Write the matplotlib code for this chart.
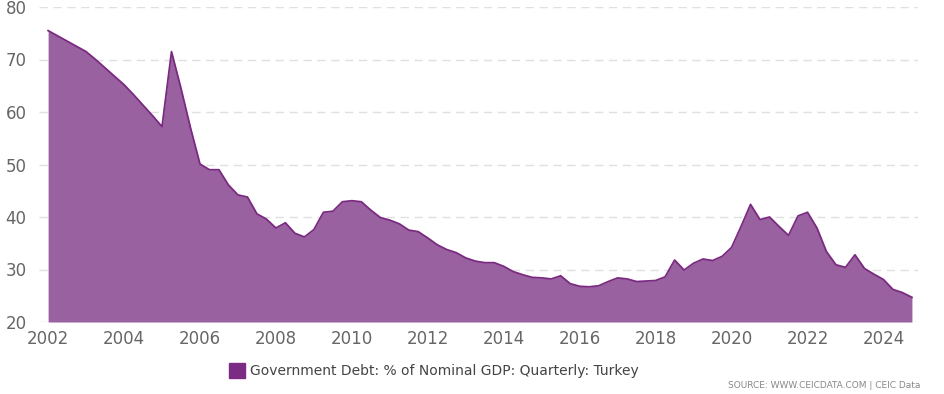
import numpy as np
import matplotlib.pyplot as plt
from matplotlib.patches import Rectangle

# quarterly readings, 2002 Q1 .. 2024 Q4
start_year = 2002
debt_pct = [
    75.5, 74.5, 73.5, 72.5, 71.5, 70.0, 68.4, 66.8,
    65.2, 63.3, 61.3, 59.3, 57.2, 71.5, 64.5, 57.0,
    50.1, 49.0, 49.0, 46.1, 44.2, 43.8, 40.6, 39.6,
    37.9, 38.9, 36.9, 36.2, 37.6, 40.9, 41.1, 42.9,
    43.1, 42.9, 41.3, 39.9, 39.4, 38.7, 37.5, 37.2,
    36.0, 34.7, 33.8, 33.2, 32.2, 31.6, 31.3, 31.3,
    30.6, 29.6, 29.0, 28.5, 28.4, 28.2, 28.8, 27.3,
    26.8, 26.7, 26.9, 27.7, 28.4, 28.2, 27.7, 27.8,
    27.9, 28.6, 31.8, 29.9, 31.2, 32.0, 31.7, 32.5,
    34.2, 38.2, 42.4, 39.5, 40.0, 38.2, 36.5, 40.2,
    40.9, 37.9, 33.4, 30.9, 30.4, 32.8, 30.2, 29.1,
    28.1, 26.2, 25.6, 24.7,
]
y_ticks = [20, 30, 40, 50, 60, 70, 80]
x_ticks = list(range(2002, 2025, 2))
series_name = 'Government Debt: % of Nominal GDP: Quarterly: Turkey'
source_text = 'SOURCE: WWW.CEICDATA.COM | CEIC Data'

t = start_year + np.arange(len(debt_pct)) / 4.0
vals = np.array(debt_pct)

plt.rcParams['font.family'] = ['DejaVu Sans']

fig = plt.figure(figsize=(9.45, 3.94), dpi=100)
ax = fig.add_axes([39 / 945, 72 / 394, 879 / 945, 315 / 394])

ax.fill_between(t, 20, vals, color='#9961a0', linewidth=0)
ax.plot(t, vals, color='#7a2a80', linewidth=1.3)

ax.set_ylim(20, 80)
ax.set_xlim(2001.76, 2024.91)
ax.set_yticks(y_ticks)
ax.set_xticks(x_ticks)
ax.set_xticklabels([str(x) for x in x_ticks])
ax.grid(axis='y', color='#e0e0e0', linestyle=(0, (6, 4)), linewidth=1)
ax.set_axisbelow(True)
for s in ax.spines.values():
    s.set_visible(False)
ax.tick_params(axis='both', length=0, colors='#666666', labelsize=12)
ax.tick_params(axis='y', pad=9)
ax.tick_params(axis='x', pad=6)

# legend
fig.patches.append(Rectangle((229 / 945, (394 - 378) / 394), 16 / 945, 15 / 394,
                             transform=fig.transFigure, color='#7b2b83'))
fig.text(250 / 945, (394 - 371) / 394, series_name, fontsize=10, color='#444444',
         va='center', ha='left')
fig.text(920 / 945, (394 - 385) / 394, source_text, fontsize=6.5, color='#888888',
         va='center', ha='right')

fig.savefig('out.png', dpi=100)
